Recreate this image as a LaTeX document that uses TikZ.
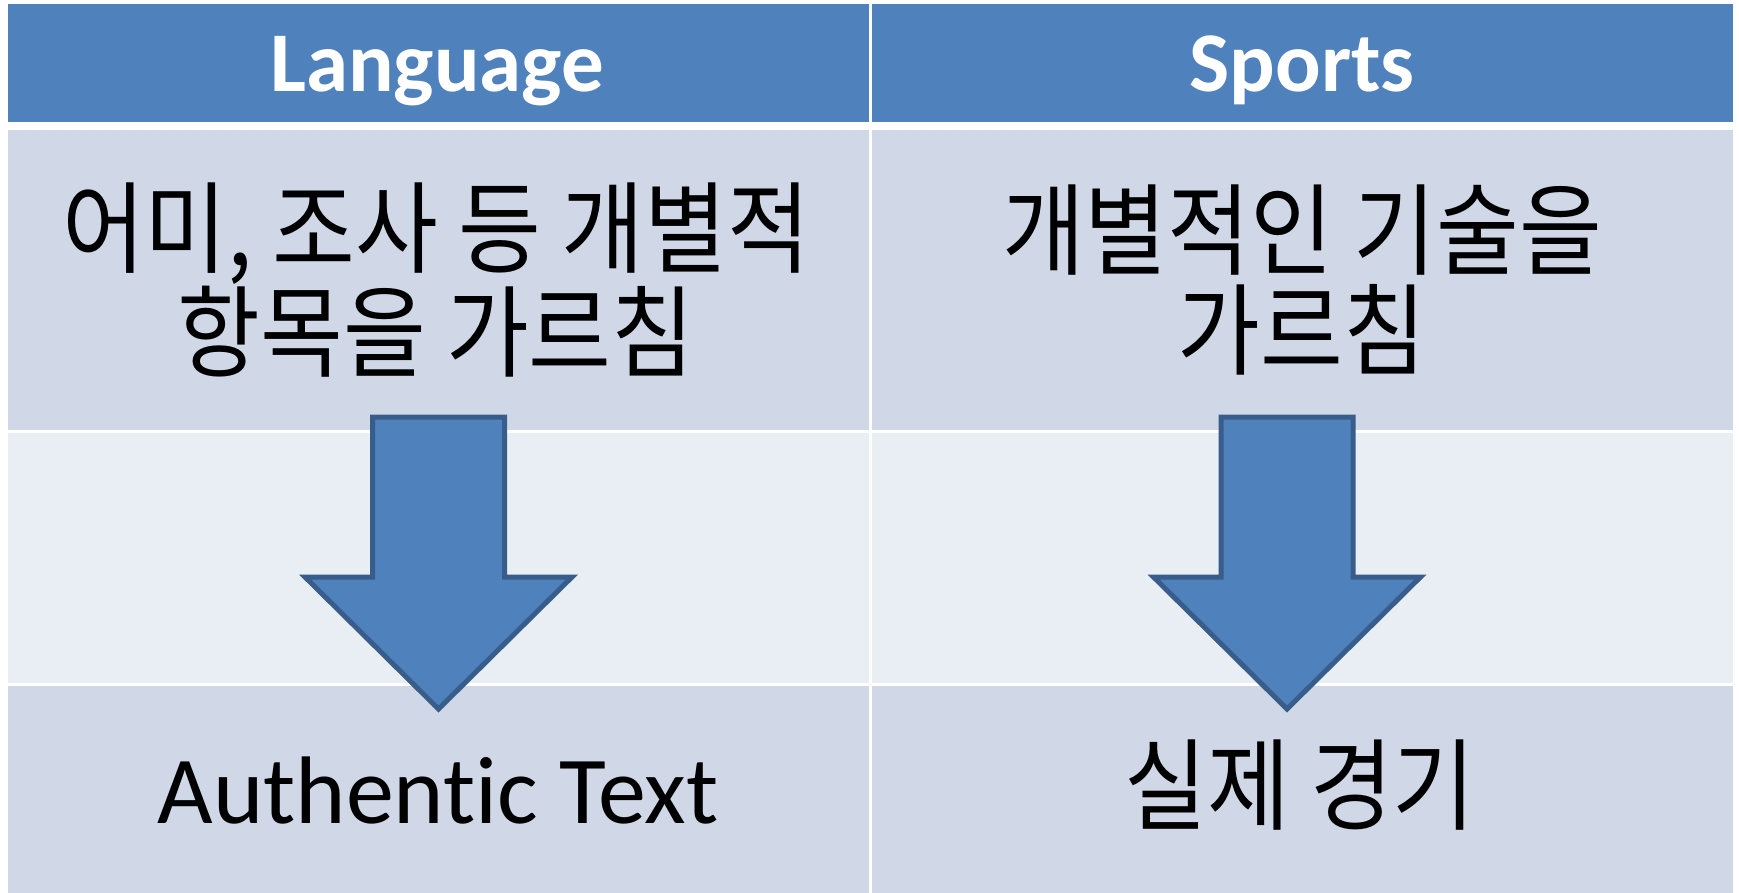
\documentclass[tikz,border=0pt]{standalone}
\usepackage{fontspec}
\setmainfont{Carlito}[Ligatures=NoCommon]
\newfontfamily\krfont[FakeStretch=0.9]{Noto Sans CJK KR}
\usepackage{tikz}
\definecolor{tblhead}{HTML}{4F81BD}
\definecolor{tblrowa}{HTML}{D0D8E8}
\definecolor{tblrowb}{HTML}{E9EDF4}
\definecolor{arrowline}{HTML}{385D8A}

\begin{document}
\begin{tikzpicture}[
  x=0.5pt, y=-0.5pt,
  cell/.style={rectangle, inner sep=0pt, minimum width=430.5pt},
  headcell/.style={cell, fill=tblhead, minimum height=59pt},
  bodycell/.style={cell, fill=tblrowa},
  midcell/.style={cell, fill=tblrowb, minimum height=125pt},
  headtext/.style={inner sep=0pt, text=white, font=\fontsize{42.5}{49}\selectfont\bfseries},
  entext/.style={inner sep=0pt, font=\fontsize{48}{50}\selectfont},
  krtext/.style={inner sep=0pt, align=center, font=\krfont\fontsize{50}{50}\selectfont},
  downarrow/.style={draw=arrowline, fill=tblhead, line width=2.5pt, miter limit=10}
]
\useasboundingbox[fill=white] (0,0) rectangle (1739,893);

% Table cells
\node[headcell] (langhead) at (438.5,63) {};
\node[headcell] (sporthead) at (1302.5,63) {};
\node[bodycell, minimum height=150pt] (langtop) at (438.5,280) {};
\node[bodycell, minimum height=150pt] (sporttop) at (1302.5,280) {};
\node[midcell] (langmid) at (438.5,558) {};
\node[midcell] (sportmid) at (1302.5,558) {};
\node[bodycell, minimum height=103.5pt] (langbot) at (438.5,789.5) {};
\node[bodycell, minimum height=103.5pt] (sportbot) at (1302.5,789.5) {};

% Texts
\node[headtext, anchor=base] (langlabel) at (437,92) {Language};
\node[headtext, anchor=base] (sportlabel) at (1302,92) {Sports};
\node[krtext] (langitems) at (436,280) {어미, 조사 등 개별적\\항목을 가르침};
\node[krtext] (sportitems) at (1302,280) {개별적인 기술을\\가르침};
\node[entext, anchor=base] (langgoal) at (438,823) {Authentic Text};
\node[krtext, anchor=base] (sportgoal) at (1300,822) {실제 경기};

% Block arrows
\foreach \c in {438.5,1287}
  \draw[downarrow] (\c-66,417) -- (\c+66,417) -- (\c+66,577) -- (\c+133.5,577)
    -- (\c,709) -- (\c-133.5,577) -- (\c-66,577) -- cycle;

\end{tikzpicture}
\end{document}
